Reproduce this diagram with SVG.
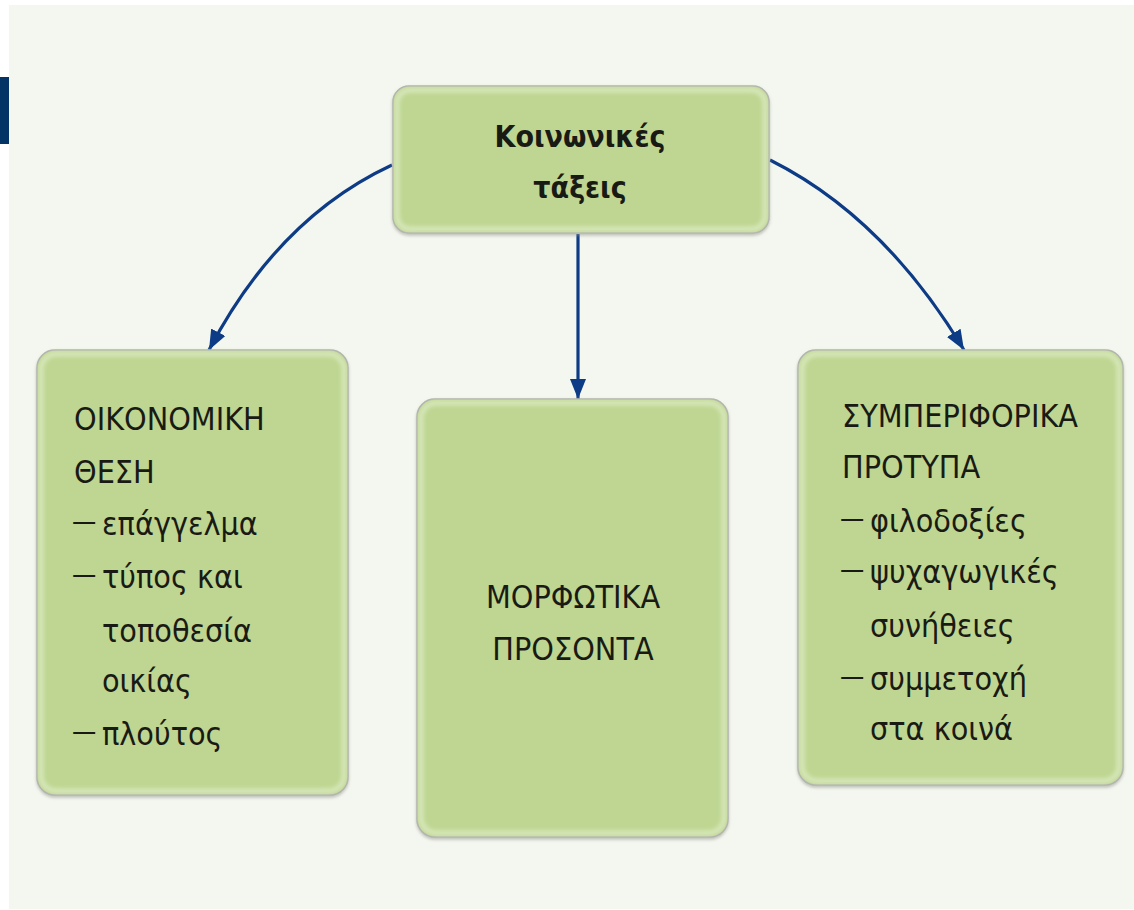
<svg xmlns="http://www.w3.org/2000/svg" width="1134" height="910" viewBox="0 0 1134 910">
<defs>
<style>
.box{fill:#bed691;stroke:#aaaaaa;stroke-width:1.5}
.glow{fill:none;stroke:#d8e8bc;stroke-width:5;filter:url(#blur)}
.t{font-family:"DejaVu Sans Condensed","DejaVu Sans","Liberation Sans",sans-serif;font-size:32px;fill:#1a1a14}
.title{font-weight:bold;font-size:30px}
.d{font-size:27px}
.conn{fill:none;stroke:#0d3b85;stroke-width:3.2}
</style>
<filter id="blur" x="-5%" y="-5%" width="110%" height="110%"><feGaussianBlur stdDeviation="2"/></filter>
<filter id="shadow" x="-5%" y="-5%" width="110%" height="110%"><feDropShadow dx="0" dy="2" stdDeviation="1.5" flood-color="#888" flood-opacity="0.5"/></filter>
<marker id="arrow" viewBox="0 0 20 16" refX="20" refY="8" markerWidth="20" markerHeight="16" markerUnits="userSpaceOnUse" orient="auto">
<path d="M0,0 L20,8 L0,16 z" fill="#0d3b85"/>
</marker>
</defs>
<rect x="0" y="0" width="1134" height="910" fill="#ffffff"/>
<rect x="9" y="5" width="1125" height="904" fill="#f4f7ef"/>
<rect x="0" y="77" width="9" height="67" fill="#043366"/>

<g id="connectors">
<path class="conn" d="M392,165 Q278,218 209,350" marker-end="url(#arrow)"/>
<path class="conn" d="M578,234 L578,399" marker-end="url(#arrow)"/>
<path class="conn" d="M770,160 Q884,217 964,350" marker-end="url(#arrow)"/>
</g>

<g id="node-top">
<rect class="box" x="393" y="86" width="376" height="147" rx="16" filter="url(#shadow)"/>
<rect class="glow" x="397" y="90" width="368" height="139" rx="13"/>
<text class="t title" x="580" y="147" text-anchor="middle">Κοινωνικές</text>
<text class="t title" x="580" y="198" text-anchor="middle">τάξεις</text>
</g>

<g id="node-left">
<rect class="box" x="37" y="350" width="311" height="445" rx="18" filter="url(#shadow)"/>
<rect class="glow" x="41" y="354" width="303" height="437" rx="15"/>
<text class="t" x="74" y="430">ΟΙΚΟΝΟΜΙΚΗ</text>
<text class="t" x="74" y="483">ΘΕΣΗ</text>
<text class="t d" x="72" y="530">—</text><text class="t" x="102" y="535">επάγγελμα</text>
<text class="t d" x="72" y="583">—</text><text class="t" x="102" y="588">τύπος και</text>
<text class="t" x="102" y="642">τοποθεσία</text>
<text class="t" x="102" y="692">οικίας</text>
<text class="t d" x="72" y="740">—</text><text class="t" x="102" y="745">πλούτος</text>
</g>

<g id="node-center">
<rect class="box" x="417" y="399" width="311" height="438" rx="18" filter="url(#shadow)"/>
<rect class="glow" x="421" y="403" width="303" height="430" rx="15"/>
<text class="t" x="573" y="608" text-anchor="middle">ΜΟΡΦΩΤΙΚΑ</text>
<text class="t" x="573" y="660" text-anchor="middle">ΠΡΟΣΟΝΤΑ</text>
</g>

<g id="node-right">
<rect class="box" x="798" y="350" width="325" height="435" rx="18" filter="url(#shadow)"/>
<rect class="glow" x="802" y="354" width="317" height="427" rx="15"/>
<text class="t" x="842" y="427">ΣΥΜΠΕΡΙΦΟΡΙΚΑ</text>
<text class="t" x="842" y="478">ΠΡΟΤΥΠΑ</text>
<text class="t d" x="840" y="527">—</text><text class="t" x="870" y="532">φιλοδοξίες</text>
<text class="t d" x="840" y="578">—</text><text class="t" x="870" y="583">ψυχαγωγικές</text>
<text class="t" x="870" y="637">συνήθειες</text>
<text class="t d" x="840" y="685">—</text><text class="t" x="870" y="690">συμμετοχή</text>
<text class="t" x="870" y="740">στα κοινά</text>
</g>
</svg>
